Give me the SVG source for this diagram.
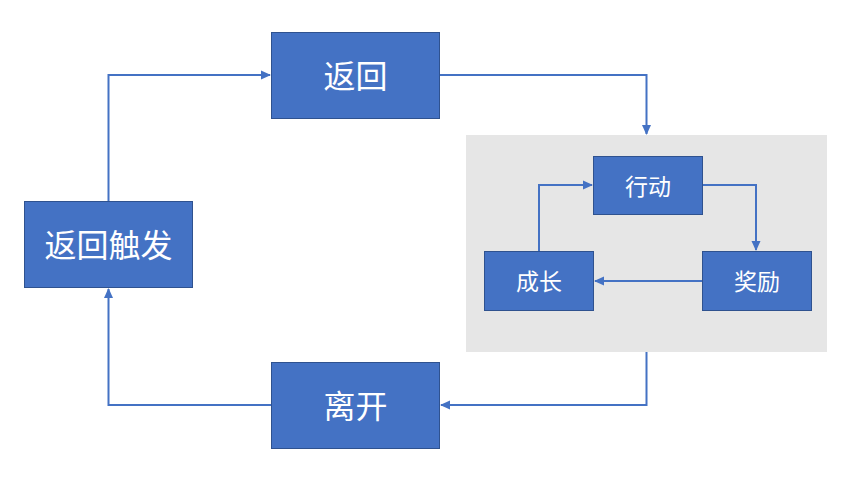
<svg xmlns="http://www.w3.org/2000/svg" width="856" height="500" viewBox="0 0 856 500">
<style>
.box{fill:#4472C4;stroke:#2F528F;stroke-width:1}
.t{fill:#fff;font-family:"Noto Sans CJK SC","Noto Sans",sans-serif;text-anchor:middle;dominant-baseline:central}
.big{font-size:32px}
.small{font-size:23px}
.c{fill:none;stroke:#4472C4;stroke-width:2}
</style>
<defs>
<marker id="ah" markerWidth="10" markerHeight="10" refX="9" refY="5" orient="auto" markerUnits="userSpaceOnUse">
<path d="M0,0.5 L10,5 L0,9.5 Z" fill="#4472C4"/>
</marker>
</defs>
<rect id="group-bg" x="466" y="135" width="361" height="217" fill="#E6E6E6"/>
<g id="connectors">
<path class="c" d="M440,75 H646.5 V134" marker-end="url(#ah)"/>
<path class="c" d="M646.5,352 V405 H441" marker-end="url(#ah)"/>
<path class="c" d="M271,405 H108.5 V289" marker-end="url(#ah)"/>
<path class="c" d="M108.5,201 V75 H270" marker-end="url(#ah)"/>
<path class="c" d="M702,185 H756 V250" marker-end="url(#ah)"/>
<path class="c" d="M702,281 H595" marker-end="url(#ah)"/>
<path class="c" d="M539,251 V185 H592" marker-end="url(#ah)"/>
</g>
<g id="n-fanhui"><rect class="box" x="271.5" y="32.5" width="168" height="86"/><text class="t big" x="355.5" y="74">返回</text></g>
<g id="n-chufa"><rect class="box" x="24.5" y="201.5" width="168" height="86"/><text class="t big" x="108.5" y="243">返回触发</text></g>
<g id="n-likai"><rect class="box" x="271.5" y="362.5" width="168" height="86"/><text class="t big" x="355.5" y="404">离开</text></g>
<g id="n-xingdong"><rect class="box" x="593.5" y="156.5" width="109" height="58"/><text class="t small" x="648" y="184.5">行动</text></g>
<g id="n-chengzhang"><rect class="box" x="484.5" y="251.5" width="109" height="59"/><text class="t small" x="539" y="280">成长</text></g>
<g id="n-jiangli"><rect class="box" x="702.5" y="251.5" width="109" height="59"/><text class="t small" x="757" y="280">奖励</text></g>
</svg>
